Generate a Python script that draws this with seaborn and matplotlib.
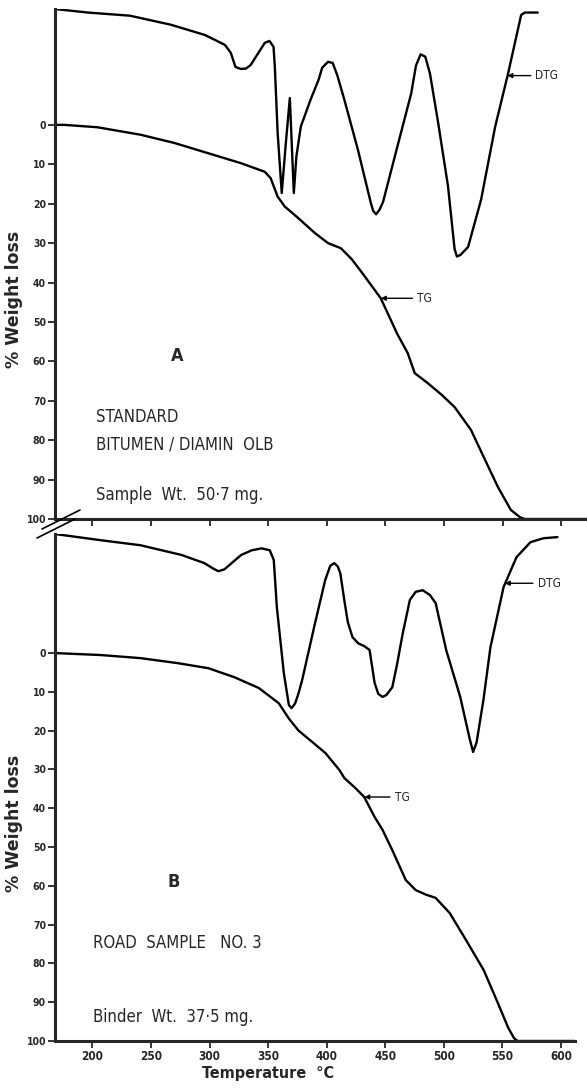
import matplotlib
matplotlib.use("Agg")
import matplotlib.pyplot as plt
from matplotlib.lines import Line2D
import pandas as pd
import seaborn as sns

# ---------------- data ----------------
temp_ticks = [200, 250, 300, 350, 400, 450, 500, 550, 600]
loss_ticks = [0, 10, 20, 30, 40, 50, 60, 70, 80, 90, 100]

# Panel A: standard bitumen / Diamin OLB (DTG trace drawn in the weight-loss axis units)
a_dtg_t = [168, 196, 232, 267, 296, 313, 318, 322, 326.5, 331, 335, 341, 347, 351, 354.5,
           355.6, 358, 361.5, 365, 368.4, 371.8, 374, 377.8, 386, 393, 396, 401, 405, 409,
           415, 426.5, 437.6, 439.5, 442, 445, 448, 458, 472, 476, 480, 484, 488, 495,
           503.4, 509, 511, 514, 520.5, 531.6, 543.6, 554.7, 565.8, 569, 580]
a_dtg_v = [-29.4, -28.5, -27.7, -25.4, -22.8, -20.3, -18.3, -14.7, -14.2, -14.3, -15.2, -18,
           -20.8, -21.3, -19.8, -14.7, 2, 17.3, 4.6, -6.8, 17.3, 8, 0.4, -6.3, -11.5, -14.5,
           -16, -15.7, -12.5, -6.3, 6.3, 19.9, 21.8, 22.7, 21.5, 19.5, 8, -8, -15, -17.9,
           -17.3, -13, -0.5, 15.6, 31.5, 33.4, 33, 31, 19, 0.5, -13.1, -27.9, -28.5, -28.5]
a_tg_t = [168, 176, 204, 241, 270, 301, 326.5, 347, 352, 358, 364, 375, 390, 401, 412, 421,
          430, 446, 460, 469, 475, 486, 498, 509, 523, 535, 546, 557, 565, 569, 622]
a_tg_v = [0, 0, 0.6, 2.5, 4.6, 7.4, 9.7, 11.9, 13.5, 18.2, 20.7, 23.5, 27.5, 30, 31.3, 34,
          37.5, 44, 53, 57.9, 63, 65.5, 68.5, 71.6, 77.4, 85, 91.9, 97.7, 99.6, 100, 100]

# Panel B: road sample no. 3
b_dtg_t = [168, 207, 241, 276, 295.5, 303, 307.5, 312.7, 320, 327, 336, 344.5, 351.4, 354.8,
           357.4, 363.4, 367.7, 370, 373, 376, 379, 390, 398.7, 403, 406.5, 409.5, 411.6,
           415, 418, 422, 427, 432, 436.6, 440.9, 444, 447.7, 451, 456, 460, 465, 471, 476,
           482, 488, 493, 502, 514, 522, 525, 528, 533.8, 539.8, 551, 562, 574, 585, 597]
b_dtg_v = [-30.7, -29.1, -27.8, -25.3, -23.2, -21.8, -21.1, -21.6, -23.5, -25.3, -26.5, -27,
           -26.5, -24, -11.9, 5.2, 13.4, 14.2, 13, 10.3, 7, -7.7, -18.8, -22.5, -23.2, -22.3,
           -20.6, -13.7, -8, -4.1, -2.5, -1.8, -0.8, 7.7, 10.5, 11.3, 10.8, 8.8, 3, -5.2,
           -13.7, -15.8, -16.2, -15, -12.9, -0.8, 11.3, 22, 25.5, 23, 12.1, -1.5, -17, -24.7,
           -28.6, -29.6, -29.9]
b_tg_t = [168, 207, 241, 273, 299, 321, 342, 359, 368, 376, 388, 399, 411, 415, 424.5, 432,
          441, 447.7, 456, 467.5, 476, 485, 493, 505, 519, 534, 545, 555, 560, 563, 612]
b_tg_v = [0, 0.5, 1.3, 2.6, 3.9, 6.2, 9, 12.9, 17, 20, 23, 25.8, 30.2, 32.2, 34.8, 37.1,
          42.3, 45.6, 50.8, 58.5, 61.1, 62.3, 63.1, 67, 74, 81.7, 89.4, 96.6, 99.3, 100, 100]

# ---------------- style ----------------
sns.set_style("ticks")
plt.rcParams["font.family"] = ["DejaVu Sans"]
plt.rcParams["font.stretch"] = "condensed"

W, H = 587, 1088
fig = plt.figure(figsize=(W / 100, H / 100), dpi=100)

def frac_rect(x0, y0, x1, y1):
    return [x0 / W, 1 - y1 / H, (x1 - x0) / W, (y1 - y0) / H]

ax_a = fig.add_axes(frac_rect(55, 9, 587, 519))
ax_b = fig.add_axes(frac_rect(55, 534, 575, 1041))

line_kw = dict(color="black", linewidth=1.7, estimator=None, sort=False, legend=False)

def draw_panel(ax, dtg_t, dtg_v, tg_t, tg_v, xlim, ytop, width_px):
    sns.lineplot(data=pd.DataFrame({"T": dtg_t, "v": dtg_v}), x="T", y="v", ax=ax, **line_kw)
    sns.lineplot(data=pd.DataFrame({"T": tg_t, "v": tg_v}), x="T", y="v", ax=ax, **line_kw)
    ax.set_xlim(*xlim)
    ax.set_ylim(100, ytop)
    ax.set_xticks(temp_ticks)
    ax.set_yticks(loss_ticks)
    for s in ("top", "right"):
        ax.spines[s].set_visible(False)
    for s in ("left", "bottom"):
        ax.spines[s].set_linewidth(2.2)
    ax.tick_params(direction="out", length=5, width=1.3, pad=1.5, labelsize=7.5)
    for lab in ax.get_yticklabels():
        lab.set_fontweight("bold")
    ax.set_ylabel("% Weight loss", fontsize=12.5, fontweight="bold", fontstretch="normal")
    ax.yaxis.set_label_coords(-(55 - 23) / width_px, 0.43)
    ax.set_xlabel("")

draw_panel(ax_a, a_dtg_t, a_dtg_v, a_tg_t, a_tg_v, (168, 622), -29.4, 532)
draw_panel(ax_b, b_dtg_t, b_dtg_v, b_tg_t, b_tg_v, (168, 612), -30.7, 520)
ax_a.tick_params(axis="x", labelbottom=False)
ax_b.tick_params(axis="x", labelsize=8.5)
for lab in ax_b.get_xticklabels():
    lab.set_fontweight("bold")
ax_b.set_xlabel("Temperature  °C", fontsize=11.5, fontweight="bold")
ax_b.xaxis.set_label_coords(0.41, -0.05)

# ---------------- annotations ----------------
arrow = dict(arrowstyle="-|>", color="black", lw=1.0, mutation_scale=7, shrinkA=1, shrinkB=0)
ann_kw = dict(fontsize=8.5, va="center", ha="left", arrowprops=arrow)

ax_a.annotate("DTG", xy=(554, -12.5), xytext=(578, -12.5), **ann_kw)
ax_a.annotate("TG", xy=(446, 44), xytext=(477, 44), **ann_kw)
ax_b.annotate("DTG", xy=(552, -18), xytext=(580, -18), **ann_kw)
ax_b.annotate("TG", xy=(432, 37.1), xytext=(458, 37.1), **ann_kw)

txt = dict(fontsize=12, va="center", ha="left")
ax_a.text(272, 58.6, "A", fontsize=13, fontweight="bold", ha="center", va="center")
ax_a.text(203, 74.1, "STANDARD", **txt)
ax_a.text(203, 81.0, "BITUMEN / DIAMIN  OLB", **txt)
ax_a.text(203, 93.9, "Sample  Wt.  50·7 mg.", **txt)

ax_b.text(269, 59, "B", fontsize=13, fontweight="bold", ha="center", va="center")
ax_b.text(200.5, 74.7, "ROAD  SAMPLE   NO. 3", **txt)
ax_b.text(200.5, 93.8, "Binder  Wt.  37·5 mg.", **txt)

# axis-break marks between the panels
for (x0, y0, x1, y1) in [(42, 529, 80, 510), (37, 538, 75, 519)]:
    fig.add_artist(Line2D([x0 / W, x1 / W], [1 - y0 / H, 1 - y1 / H],
                          transform=fig.transFigure, color="black", lw=1.2))

fig.savefig("out.png", dpi=100)
